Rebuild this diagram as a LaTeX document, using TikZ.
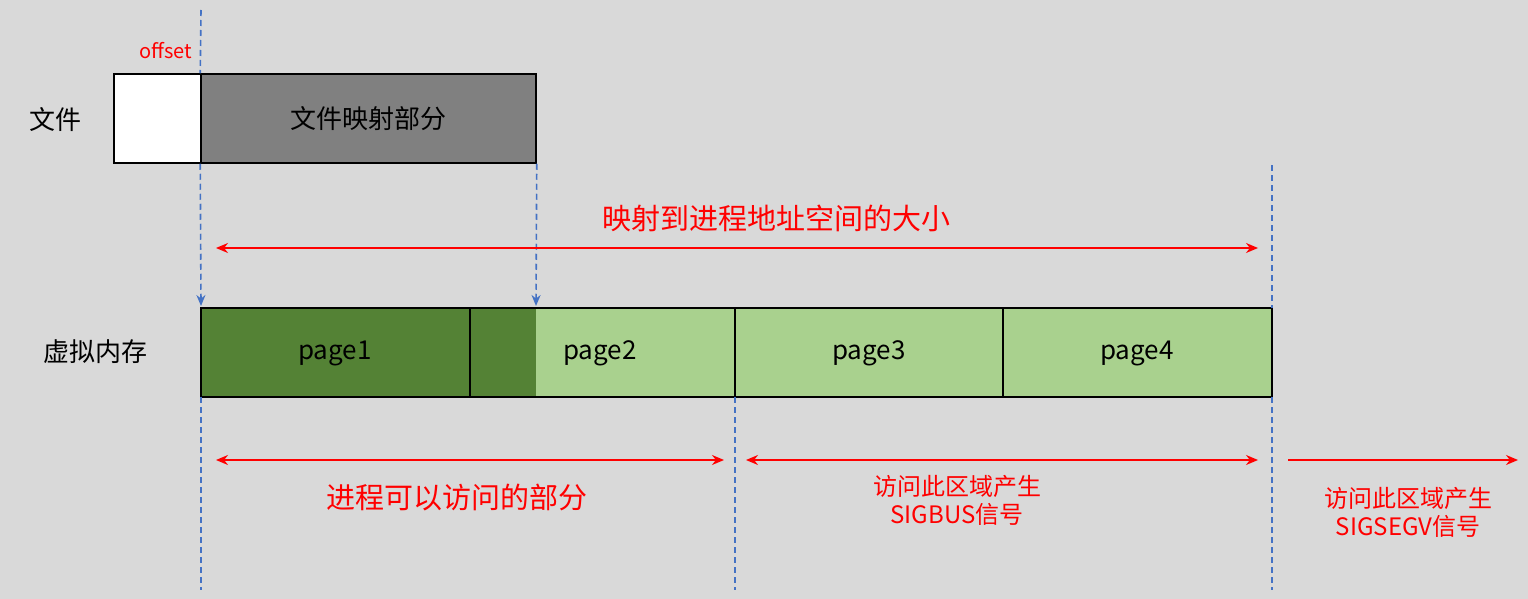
\documentclass[tikz,border=0pt]{standalone}
\usepackage{fontspec}
\setmainfont{Noto Sans CJK SC}
\usetikzlibrary{arrows.meta}
\definecolor{bg}{HTML}{D9D9D9}
\definecolor{darkg}{HTML}{548235}
\definecolor{lightg}{HTML}{A9D18E}
\definecolor{guide}{HTML}{4472C4}
\tikzset{
  guideline/.style={guide,line width=1.6pt,dash pattern=on 6pt off 4pt},
  redline/.style={red,line width=1.5pt},
  redarrow/.style={redline,{Stealth[length=12pt,width=10pt]}-{Stealth[length=12pt,width=10pt]}},
  redtext/.style={red,font=\fontsize{24}{28}\selectfont,align=center},
  pagelabel/.style={font=\fontsize{26}{30}\selectfont}
}
\begin{document}
\begin{tikzpicture}[x=1pt,y=-1pt]
\useasboundingbox[fill=bg] (0,0) rectangle (1528,599);
% file row
\node[draw,line width=1.5pt,fill=white,minimum width=87pt,minimum height=89pt,inner sep=0] (head) at (157.5,118.5) {};
\node[draw,line width=1.5pt,fill=gray,minimum width=335pt,minimum height=89pt,inner sep=0,pagelabel] (mapped) at (368.5,118.5) {文件映射部分};
\node[pagelabel] (file) at (55,120) {文件};
\node[red,font=\fontsize{20}{24}\selectfont] (offset) at (166,51) {offset};
% memory row
\fill[darkg] (201,308) rectangle (536,397);
\fill[lightg] (536,308) rectangle (1272,397);
\draw[line width=1.5pt] (201,308) rectangle (1272,397);
\foreach \x in {470,735,1003} \draw[line width=1.5pt] (\x,308) -- (\x,397);
\node[pagelabel] (p1) at (335,353) {page1};
\node[pagelabel] (p2) at (600,353) {page2};
\node[pagelabel] (p3) at (869,353) {page3};
\node[pagelabel] (p4) at (1137,353) {page4};
\node[pagelabel] (vm) at (95,352) {虚拟内存};
% guides
\coordinate (g1) at (201,306);
\coordinate (g2) at (536,306);
\draw[guideline] (201,10) -- (mapped.north west);
\draw[guideline,-{Stealth[length=11pt,width=9pt]}] (mapped.south west) -- (g1);
\draw[guideline,-{Stealth[length=11pt,width=9pt]}] (mapped.south east) -- (g2);
\draw[guideline] (201,397) -- (201,590);
\draw[guideline] (735,397) -- (735,590);
\draw[guideline] (1272,165) -- (1272,308);
\draw[guideline] (1272,397) -- (1272,590);
% red arrows
\coordinate (a1) at (216,248); \coordinate (a2) at (1258,248);
\draw[redarrow] (a1) -- (a2);
\node[redtext,font=\fontsize{29}{33}\selectfont] (size) at (776,218) {映射到进程地址空间的大小};
\coordinate (b1) at (216,460); \coordinate (b2) at (724,460);
\coordinate (b3) at (746,460); \coordinate (b4) at (1258,460);
\coordinate (b5) at (1288,460); \coordinate (b6) at (1518,460);
\draw[redarrow] (b1) -- (b2);
\draw[redarrow] (b3) -- (b4);
\draw[redline,-{Stealth[length=12pt,width=10pt]}] (b5) -- (b6);
\node[redtext,font=\fontsize{29}{33}\selectfont] (ok) at (457,498) {进程可以访问的部分};
\node[redtext] (bus) at (957,500) {访问此区域产生\\SIGBUS信号};
\node[redtext] (segv) at (1408,512) {访问此区域产生\\SIGSEGV信号};
\end{tikzpicture}
\end{document}
